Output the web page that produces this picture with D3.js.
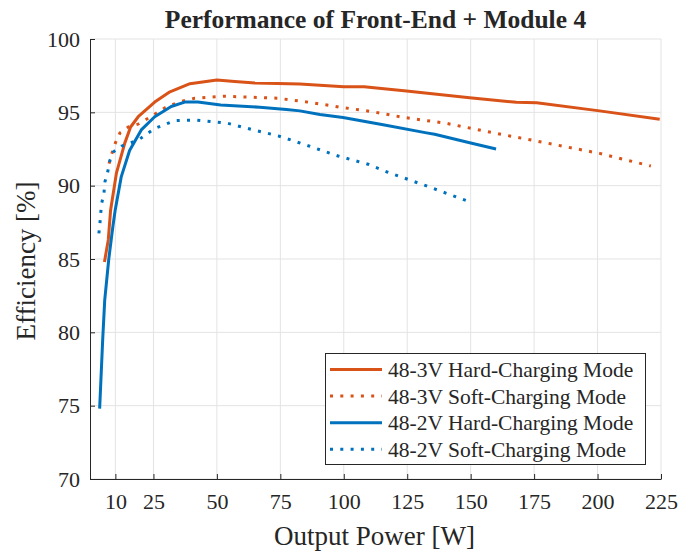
<!DOCTYPE html>
<html><head><meta charset="utf-8">
<script src="https://cdn.jsdelivr.net/npm/d3@7"></script>
<style>
html,body{margin:0;padding:0;background:#fff;}
text{font-family:"Liberation Serif","Times New Roman",serif;fill:#262626;}
</style></head>
<body>
<svg id="c" width="693" height="552"></svg>
<script>
const title = "Performance of Front-End + Module 4";
const xLabel = "Output Power [W]";
const yLabel = "Efficiency [%]";
const xTicks = [10, 25, 50, 75, 100, 125, 150, 175, 200, 225];
const yTicks = [70, 75, 80, 85, 90, 95, 100];
const seriesNames = ["48-3V Hard-Charging Mode", "48-3V Soft-Charging Mode", "48-2V Hard-Charging Mode", "48-2V Soft-Charging Mode"];

const hard3V_x = [5.7, 7.2, 8.1, 10.4, 13.7, 16, 19, 25.5, 31.5, 39.4, 50, 57, 65, 82.7, 100, 108, 124.7, 149.6, 168, 176, 200.8, 224.5];
const hard3V_y = [84.8, 86.3, 88.3, 90.85, 92.9, 94.0, 94.7, 95.7, 96.4, 96.95, 97.2, 97.1, 97.0, 96.93, 96.75, 96.75, 96.45, 96.0, 95.68, 95.65, 95.1, 94.53];

const soft3V_x = [7.5, 8.8, 10.1, 11.8, 15.1, 19, 23, 29.4, 35, 41.2, 53, 74, 86.6, 99, 111.5, 123.4, 140.4, 160, 180.5, 200.8, 221];
const soft3V_y = [91.5, 92.3, 92.96, 93.6, 94.0, 94.2, 94.6, 95.3, 95.7, 95.96, 96.1, 95.96, 95.68, 95.34, 95.04, 94.66, 94.25, 93.57, 92.89, 92.2, 91.34];

const hard2V_x = [3.8, 5, 5.8, 7.4, 9, 9.9, 12.3, 15.6, 20.2, 25.5, 32, 37.3, 42.5, 51.5, 66.9, 77.4, 82.7, 90.6, 99.7, 115.5, 132.6, 135.8, 149.6, 160];
const hard2V_y = [74.8, 79.5, 82.2, 85, 87.2, 88.3, 90.6, 92.4, 93.8, 94.7, 95.4, 95.7, 95.7, 95.5, 95.35, 95.2, 95.1, 94.85, 94.65, 94.15, 93.6, 93.5, 92.93, 92.5];

const soft2V_x = [3.5, 3.9, 4.2, 4.6, 5.5, 5.9, 7, 7.9, 9.2, 12.5, 18.9, 25.5, 33.3, 41.2, 53.8, 65.6, 74.1, 85.5, 97.8, 109.6, 116.8, 132.6, 148.3];
const soft2V_y = [86.75, 87.4, 88.1, 88.8, 89.5, 90.27, 90.95, 91.75, 92.3, 92.7, 93.1, 93.9, 94.43, 94.48, 94.27, 93.75, 93.4, 92.75, 92.02, 91.46, 90.95, 89.98, 88.98];

const colors = ["#D95319", "#D95319", "#0072BD", "#0072BD"];
const dashed = [false, true, false, true];
const seriesX = [hard3V_x, soft3V_x, hard2V_x, soft2V_x];
const seriesY = [hard3V_y, soft3V_y, hard2V_y, soft2V_y];

const svg = d3.select("#c");
const L = 90, R = 661, T = 39, B = 479;
const x = d3.scaleLinear().domain([0, 225]).range([L, R]);
const y = d3.scaleLinear().domain([70, 100]).range([B, T]);

// grid
const g = svg.append("g");
g.selectAll(".gx").data(xTicks).join("line")
  .attr("x1", d => x(d)).attr("x2", d => x(d)).attr("y1", T).attr("y2", B)
  .attr("stroke", "#e3e3e3").attr("stroke-width", 1);
g.selectAll(".gy").data(yTicks).join("line")
  .attr("y1", d => y(d)).attr("y2", d => y(d)).attr("x1", L).attr("x2", R)
  .attr("stroke", "#e3e3e3").attr("stroke-width", 1);

// axes
const xAxis = d3.axisBottom(x).tickValues(xTicks).tickSizeInner(-5).tickSizeOuter(0).tickPadding(14);
const yAxis = d3.axisLeft(y).tickValues(yTicks).tickSizeInner(-5).tickSizeOuter(0).tickPadding(10);
const gx = svg.append("g").attr("transform", `translate(0,${B})`).call(xAxis);
const gy = svg.append("g").attr("transform", `translate(${L},0)`).call(yAxis);
[gx, gy].forEach(a => {
  a.select(".domain").attr("stroke", "#262626").attr("stroke-width", 1);
  a.selectAll(".tick line").attr("stroke", "#262626");
  a.selectAll(".tick text").attr("font-family", "Liberation Serif").attr("font-size", 22).attr("fill", "#262626");
});
gx.selectAll(".tick text").attr("dy", "0.71em");

// lines
const clip = svg.append("clipPath").attr("id", "pc").append("rect")
  .attr("x", L).attr("y", T - 2).attr("width", R - L + 2).attr("height", B - T + 4);
const line = d3.line().x(d => x(d[0])).y(d => y(d[1]));
seriesX.forEach((xs, i) => {
  const pts = xs.map((v, j) => [v, seriesY[i][j]]);
  svg.append("path").datum(pts)
    .attr("d", line)
    .attr("fill", "none")
    .attr("stroke", colors[i])
    .attr("stroke-width", 3)
    .attr("stroke-linejoin", "round")
    .attr("stroke-dasharray", dashed[i] ? "3,7.3" : null)
    .attr("clip-path", "url(#pc)");
});

// title and labels
svg.append("text").attr("x", (L + R) / 2).attr("y", 28).attr("text-anchor", "middle")
  .attr("font-size", 25.5).attr("font-weight", "bold").attr("fill", "#000").text(title);
svg.append("text").attr("x", (L + R) / 2 - 1).attr("y", 545).attr("text-anchor", "middle")
  .attr("font-size", 27).text(xLabel);
svg.append("text").attr("transform", `translate(35,${(T + B) / 2 + 2}) rotate(-90)`)
  .attr("text-anchor", "middle").attr("font-size", 27).text(yLabel);

// legend
const lg = svg.append("g");
lg.append("rect").attr("x", 325.5).attr("y", 353.5).attr("width", 320).attr("height", 111)
  .attr("fill", "#fff").attr("stroke", "#262626").attr("stroke-width", 1);
seriesNames.forEach((name, i) => {
  const cy = 369.5 + i * 26.6;
  lg.append("line").attr("x1", 330).attr("x2", 382).attr("y1", cy).attr("y2", cy)
    .attr("stroke", colors[i]).attr("stroke-width", 3)
    .attr("stroke-dasharray", dashed[i] ? "3,7.3" : null);
  lg.append("text").attr("x", 388).attr("y", cy).attr("dy", "0.35em")
    .attr("font-size", 21.5).text(name);
});
</script>
</body></html>
